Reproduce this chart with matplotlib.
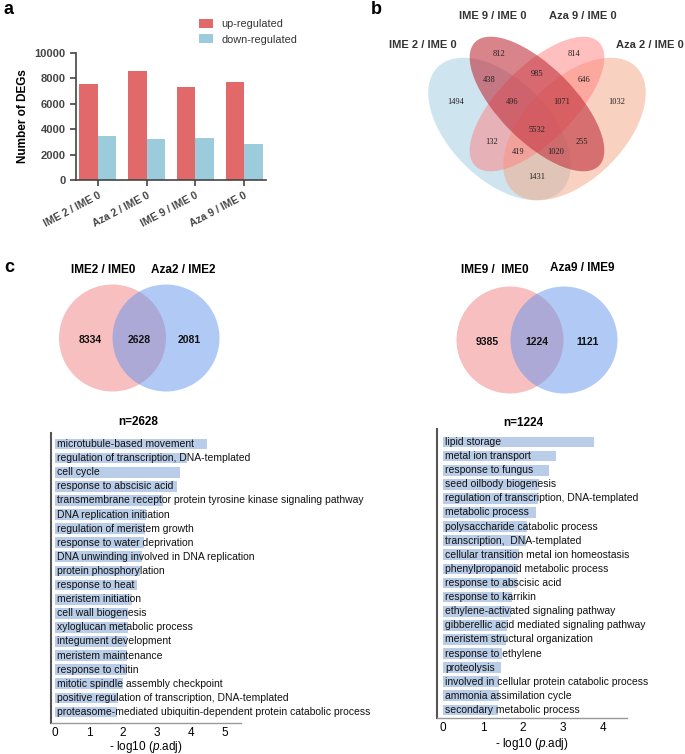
import matplotlib.pyplot as plt
from matplotlib.patches import Ellipse, Circle

plt.rcParams['font.family'] = ['Liberation Sans', 'DejaVu Sans']
plt.rcParams['mathtext.fontset'] = 'custom'
plt.rcParams['mathtext.it'] = 'Liberation Sans:italic'
plt.rcParams['mathtext.rm'] = 'Liberation Sans'

W, H = 685, 754

# panel a - number of DEGs
comparisons = ['IME 2 / IME 0', 'Aza 2 / IME 0', 'IME 9 / IME 0', 'Aza 9 / IME 0']
up_regulated = [7550, 8550, 7350, 7700]
down_regulated = [3450, 3200, 3300, 2800]

# panel b - four set venn
venn4_names = ['IME 2 / IME 0', 'IME 9 / IME 0', 'Aza 9 / IME 0', 'Aza 2 / IME 0']
venn4_counts = [812, 814, 438, 985, 646, 1494, 496, 1071, 1032,
                5532, 132, 255, 419, 1020, 1431]

# panel c - two set venns
venn_left_names = ['IME2 / IME0', 'Aza2 / IME2']
venn_left_counts = [8334, 2628, 2081]
venn_right_names = ['IME9 /  IME0', 'Aza9 / IME9']
venn_right_counts = [9385, 1224, 1121]

# panel c - GO enrichment
go_left_terms = [
    'microtubule-based movement',
    'regulation of transcription, DNA-templated',
    'cell cycle',
    'response to abscisic acid',
    'transmembrane receptor protein tyrosine kinase signaling pathway',
    'DNA replication initiation',
    'regulation of meristem growth',
    'response to water deprivation',
    'DNA unwinding involved in DNA replication',
    'protein phosphorylation',
    'response to heat',
    'meristem initiation',
    'cell wall biogenesis',
    'xyloglucan metabolic process',
    'integument development',
    'meristem maintenance',
    'response to chitin',
    'mitotic spindle assembly checkpoint',
    'positive regulation of transcription, DNA-templated',
    'proteasome-mediated ubiquitin-dependent protein catabolic process',
]
go_left_values = [4.47, 3.88, 3.68, 3.6, 3.18, 2.68, 2.65, 2.62, 2.56, 2.5,
                  2.41, 2.26, 2.15, 2.14, 2.13, 2.12, 2.11, 2.0, 1.85, 1.82]

go_right_terms = [
    'lipid storage',
    'metal ion transport',
    'response to fungus',
    'seed oilbody biogenesis',
    'regulation of transcription, DNA-templated',
    'metabolic process',
    'polysaccharide catabolic process',
    'transcription,  DNA-templated',
    'cellular transition metal ion homeostasis',
    'phenylpropanoid metabolic process',
    'response to abscisic acid',
    'response to karrikin',
    'ethylene-activated signaling pathway',
    'gibberellic acid mediated signaling pathway',
    'meristem structural organization',
    'response to ethylene',
    'proteolysis',
    'involved in cellular protein catabolic process',
    'ammonia assimilation cycle',
    'secondary metabolic process',
]
go_right_values = [3.78, 2.83, 2.65, 2.4, 2.38, 2.32, 2.1, 2.08, 1.9, 1.87,
                   1.84, 1.73, 1.7, 1.6, 1.58, 1.48, 1.45, 1.4, 1.39, 1.38]


def px_axes(fig, left, top, right, bottom):
    return fig.add_axes([left / W, 1 - bottom / H, (right - left) / W, (bottom - top) / H])


fig = plt.figure(figsize=(6.85, 7.54), dpi=100)

# overlay in pixel coordinates for venns and panel letters
ov = fig.add_axes([0, 0, 1, 1], zorder=0)
ov.set_xlim(0, W)
ov.set_ylim(H, 0)
ov.axis('off')

for letter, x, y in [('a', 4, 10), ('b', 371, 10), ('c', 4, 268)]:
    ov.text(x, y, letter, fontsize=13, fontweight='bold', va='center', ha='left')

# ---- panel a ----
ax = px_axes(fig, 76, 53, 266, 180)
ax.set_facecolor('none')
xpos = list(range(len(comparisons)))
bw = 0.38
ax.bar([x - bw / 2 for x in xpos], up_regulated, bw, color='#e2696a', label='up-regulated')
ax.bar([x + bw / 2 for x in xpos], down_regulated, bw, color='#9ccbdc', label='down-regulated')
ax.set_xlim(-0.45, 3.45)
ax.set_ylim(0, 10000)
ax.set_yticks([0, 2000, 4000, 6000, 8000, 10000])
ax.set_xticks(xpos)
ax.set_xticklabels(comparisons, rotation=28, ha='right', rotation_mode='anchor',
                   fontsize=7.5, fontweight='bold', color='#333333')
for lab in ax.get_yticklabels():
    lab.set_fontweight('bold')
    lab.set_fontsize(8)
    lab.set_color('#333333')
for s in ['top', 'right']:
    ax.spines[s].set_visible(False)
for s in ['left', 'bottom']:
    ax.spines[s].set_color('#444444')
    ax.spines[s].set_linewidth(1.2)
ax.tick_params(colors='#444444', length=4, width=1.2)
ax.set_ylabel('Number of DEGs', fontsize=8.5, fontweight='bold', labelpad=4)
ax.legend(loc='upper left', bbox_to_anchor=(189 / W, 1 - 9 / H), bbox_transform=fig.transFigure,
          frameon=False, fontsize=7.8, handlelength=1.3, handleheight=0.9,
          labelspacing=0.5, labelcolor='#333333')

# ---- panel b ----
ell = [
    ((499.5, 129), 175, 100, 45, '#9ecae1', 0.5),
    ((574.5, 129), 175, 100, -45, '#f4a582', 0.5),
    ((537, 104), 175, 75, -45, '#ff8080', 0.5),
    ((537, 104), 175, 75, 45, '#c0303c', 0.6),
]
for (cx, cy), w, h, ang, col, a in ell:
    ov.add_patch(Ellipse((cx, cy), w, h, angle=ang, facecolor=col, alpha=a, edgecolor='none'))

venn4_name_pos = [(423, 45), (493, 16), (583, 16), (650, 45)]
for name, (x, y) in zip(venn4_names, venn4_name_pos):
    ov.text(x, y, name, fontsize=8, fontweight='bold', color='#333333', ha='center', va='center')

venn4_pos = [(499, 54), (574, 54), (489, 80), (537, 74), (584, 80), (456, 102), (512, 102),
             (562, 102), (617, 102), (537, 130), (492, 142), (582, 142), (518, 152),
             (556, 152), (537, 177)]
for n, (x, y) in zip(venn4_counts, venn4_pos):
    ov.text(x, y, str(n), fontsize=6, family='Liberation Serif', ha='center', va='center',
            color='#222222')

# ---- panel c venns ----
def venn2(cx1, cx2, cy, r, names, counts, name_pos):
    ov.add_patch(Circle((cx1, cy), r, facecolor='#F08080', alpha=0.5, edgecolor='none'))
    ov.add_patch(Circle((cx2, cy), r, facecolor='#6495ED', alpha=0.5, edgecolor='none'))
    for name, (x, y) in zip(names, name_pos):
        ov.text(x, y, name, fontsize=8.5, fontweight='bold', ha='center', va='center')
    xs = [cx1 - r * 0.42, (cx1 + cx2) / 2, cx2 + r * 0.44]
    for n, x in zip(counts, xs):
        ov.text(x, cy + 2, str(n), fontsize=7.5, fontweight='bold', ha='center', va='center',
                color='#111111')


venn2(112.5, 166, 338, 53.5, venn_left_names, venn_left_counts, [(103, 270), (183, 270)])
venn2(510, 564, 340, 53.5, venn_right_names, venn_right_counts, [(495, 270), (582, 268)])

# ---- panel c GO bars ----
def go_bars(rect, terms, values, xlim, ylim, ticks, title, title_pos, lpad):
    ax = px_axes(fig, *rect)
    ax.set_facecolor('none')
    ypos = list(range(len(terms)))
    ax.barh(ypos, values, height=0.76, color='#b9cde8')
    for y, t in zip(ypos, terms):
        ax.text(0.06, y, t, fontsize=7.5, va='center', ha='left', color='#111111', clip_on=False)
    ax.set_xlim(*xlim)
    ax.set_ylim(*ylim)
    ax.set_yticks([])
    ax.set_xticks(ticks)
    ax.tick_params(axis='x', length=0, labelsize=8.5, pad=3)
    for s in ['top', 'right']:
        ax.spines[s].set_visible(False)
    ax.spines['left'].set_color('#555555')
    ax.spines['left'].set_linewidth(1.5)
    ax.spines['bottom'].set_color('#999999')
    ax.spines['bottom'].set_linewidth(1.0)
    ax.set_xlabel(r'- log10 ($\it{p}$.adj)', fontsize=8.5, labelpad=lpad)
    ov.text(title_pos[0], title_pos[1], title, fontsize=8.5, fontweight='bold',
            ha='center', va='center')


go_bars((51, 433, 241, 723), go_left_terms, go_left_values, (-0.12, 5.47), (19.78, -0.78),
        [0, 1, 2, 3, 4, 5], 'n=2628', (138, 422), 0)
go_bars((437, 429, 627, 718), go_right_terms, go_right_values, (-0.15, 4.6), (19.57, -0.92),
        [0, 1, 2, 3, 4], 'n=1224', (523, 423), 1)

fig.savefig('out.png', dpi=100)
